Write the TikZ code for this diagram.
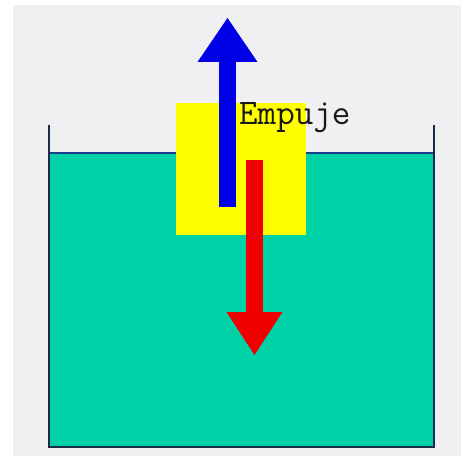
\documentclass[tikz,border=0pt]{standalone}
\usepackage{fontspec}
\usetikzlibrary{arrows.meta,positioning}
\definecolor{fondo}{HTML}{F0F0F3}
\definecolor{agua}{HTML}{00D2A8}
\definecolor{pared}{HTML}{1C2B4A}
\definecolor{linea}{HTML}{1A3C8C}
\definecolor{azul}{HTML}{0000E6}
\definecolor{rojo}{HTML}{F20000}
\definecolor{bloque}{HTML}{FFFF00}
\begin{document}
\begin{tikzpicture}[x=1pt,y=1pt, every node/.style={inner sep=0pt},
    fuerza/.style={line width=17pt}]
    \useasboundingbox (0,0) rectangle (461,456);
    \fill[white] (0,0) rectangle (461,456);
    \fill[fondo] (13,0) rectangle (461,451);
    % recipiente con agua
    \fill[agua] (49,9) rectangle (434,303);
    \draw[linea, line width=1.5pt] (49,303) -- (434,303);
    \draw[pared, line width=2.2pt] (49,331) -- (49,9) -- (434,9) -- (434,331);
    % cuerpo sumergido
    \node[fill=bloque, minimum width=130pt, minimum height=132pt] (cubo) at (241,287) {};
    \coordinate (e0) at (227.5,249);
    \coordinate (e1) at (227.5,438);
    \coordinate (p0) at (254.5,296);
    \coordinate (p1) at (254.5,101);
    \draw[fuerza, azul, -{Triangle[length=44pt,width=60pt,line width=0pt]}] (e0) -- (e1);
    \draw[fuerza, rojo, -{Triangle[length=43pt,width=56pt,line width=0pt]}] (p0) -- (p1);
    \node[anchor=base west, font=\ttfamily\fontsize{36}{36}\selectfont, text=black!90] (empuje) at (239,331) {Empuje};
\end{tikzpicture}
\end{document}
